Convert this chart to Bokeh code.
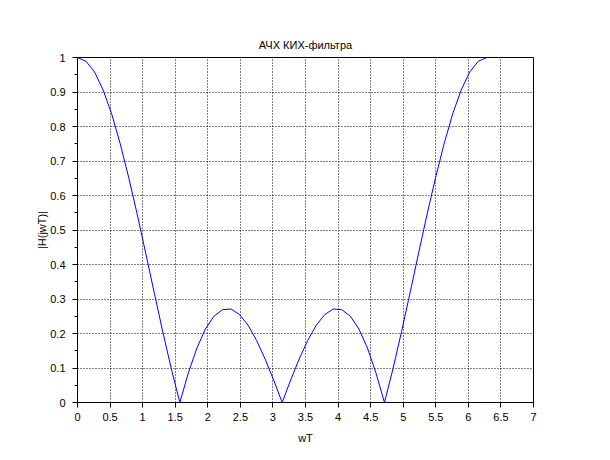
from bokeh.plotting import figure
from bokeh.models import Range1d, FixedTicker, CustomJSTickFormatter
from bokeh.embed import file_html
from bokeh.resources import INLINE

# Data
wT = [0, 0.131, 0.262, 0.393, 0.524, 0.654, 0.785, 0.916, 1.047, 1.178, 1.309, 1.440,
      1.571, 1.702, 1.833, 1.963, 2.094, 2.225, 2.356, 2.487, 2.618, 2.749, 2.880, 3.011,
      3.142, 3.272, 3.403, 3.534, 3.665, 3.796, 3.927, 4.058, 4.189, 4.320, 4.451, 4.581,
      4.712, 4.843, 4.974, 5.105, 5.236, 5.367, 5.498, 5.629, 5.760, 5.890, 6.021, 6.152,
      6.283]
H = [1, 0.989, 0.958, 0.906, 0.837, 0.751, 0.653, 0.546, 0.433, 0.318, 0.205, 0.098,
     0, 0.086, 0.158, 0.213, 0.25, 0.269, 0.271, 0.255, 0.224, 0.180, 0.126, 0.065,
     0, 0.065, 0.126, 0.180, 0.224, 0.255, 0.271, 0.269, 0.25, 0.213, 0.158, 0.086,
     0, 0.098, 0.205, 0.318, 0.433, 0.546, 0.653, 0.751, 0.837, 0.906, 0.958, 0.989,
     1]

x_ticks = [0, 0.5, 1, 1.5, 2, 2.5, 3, 3.5, 4, 4.5, 5, 5.5, 6, 6.5, 7]
y_ticks = [0, 0.1, 0.2, 0.3, 0.4, 0.5, 0.6, 0.7, 0.8, 0.9, 1]
y_minor = [0.05, 0.15, 0.25, 0.35, 0.45, 0.55, 0.65, 0.75, 0.85, 0.95]

title_text = "АЧХ КИХ-фильтра"
x_label = "wT"
y_label = "|H(jwT)|"

FONT = "Liberation Sans"

p = figure(width=600, height=450, output_backend="svg", toolbar_location=None,
           x_range=Range1d(0, 7), y_range=Range1d(0, 1),
           min_border_left=77, min_border_right=67, min_border_top=57, min_border_bottom=48,
           title=title_text)

p.title.align = "center"
p.title.text_font = FONT
p.title.text_font_size = "11px"
p.title.text_font_style = "normal"
p.title.text_color = "black"
p.title.standoff = 14

p.line(wT, H, line_color="#0000ff", line_width=1)

fmt = CustomJSTickFormatter(code="return String(Math.round(tick*100)/100);")

p.xaxis.ticker = FixedTicker(ticks=x_ticks)
p.yaxis.ticker = FixedTicker(ticks=y_ticks, minor_ticks=y_minor)
p.xgrid.ticker = FixedTicker(ticks=x_ticks)
p.ygrid.ticker = FixedTicker(ticks=y_ticks)

for ax in (p.xaxis, p.yaxis):
    ax.formatter = fmt
    ax.axis_line_color = "black"
    ax.major_tick_line_color = "black"
    ax.major_tick_in = 0
    ax.major_tick_out = 5
    ax.major_label_text_font = FONT
    ax.major_label_text_font_size = "11px"
    ax.major_label_text_color = "black"
    ax.axis_label_text_font = FONT
    ax.axis_label_text_font_size = "11px"
    ax.axis_label_text_font_style = "normal"
    ax.axis_label_text_color = "black"

p.xaxis.minor_tick_line_color = None
p.yaxis.minor_tick_line_color = "black"
p.yaxis.minor_tick_in = 0
p.yaxis.minor_tick_out = 3

p.xaxis.major_label_standoff = 5
p.yaxis.major_label_standoff = 7
p.xaxis.axis_label = x_label
p.yaxis.axis_label = y_label
p.xaxis.axis_label_standoff = 8
p.yaxis.axis_label_standoff = -1

for g in (p.xgrid, p.ygrid):
    g.grid_line_color = "black"
    g.grid_line_dash = "1 2"
    g.grid_line_width = 1
    g.grid_line_alpha = 1

p.outline_line_color = "black"
p.outline_line_alpha = 1
p.outline_line_width = 1
p.background_fill_color = "white"
p.border_fill_color = "white"

open("out.html", "w").write(file_html(p, INLINE))
